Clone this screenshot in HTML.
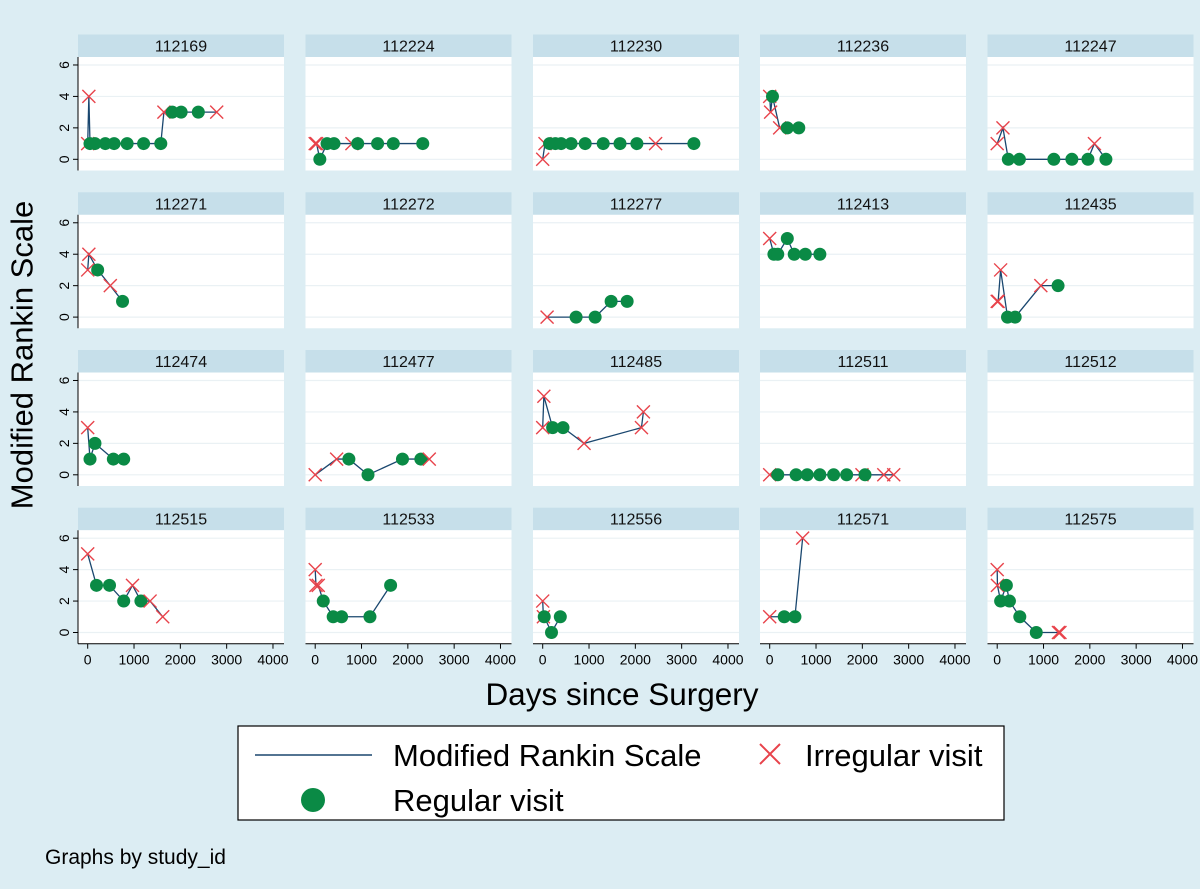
<!DOCTYPE html>
<html><head><meta charset="utf-8"><style>
body{margin:0;background:#dcedf3;}
svg{display:block;font-family:"Liberation Sans",sans-serif;}
</style></head><body>
<svg id="c" width="1200" height="889" viewBox="0 0 1200 889" xmlns="http://www.w3.org/2000/svg">
<rect width="1200" height="889" fill="#dcedf3"/>
<text x="22" y="355" font-size="31" text-anchor="middle" transform="rotate(-90 22 355)" dominant-baseline="central" fill="#000">Modified Rankin Scale</text>
<text x="622" y="705" font-size="31.5" text-anchor="middle" fill="#000">Days since Surgery</text>
<g>
<rect x="238" y="726" width="766" height="94" fill="#fff" stroke="#000" stroke-width="1.2"/>
<line x1="255" y1="755" x2="372" y2="755" stroke="#1a476f" stroke-width="1.6"/>
<text x="393" y="766" font-size="31">Modified Rankin Scale</text>
<path d="M760 744 L780 764 M780 744 L760 764" stroke="#e8434b" stroke-width="2"/>
<text x="805" y="766" font-size="31">Irregular visit</text>
<circle cx="313" cy="800" r="12" fill="#0a8a45"/>
<text x="393" y="811" font-size="31">Regular visit</text>
</g>
<text x="45" y="864" font-size="21">Graphs by study_id</text>
<g id="panels"></g>
</svg>
<script>
const ids=["112169","112224","112230","112236","112247","112271","112272","112277","112413","112435","112474","112477","112485","112511","112512","112515","112533","112556","112571","112575"];
const days=[
[0,25,50,157,380,570,851,1207,1578,1645,1826,2017,2388,2785],
[0,30,100,256,405,793,917,1347,1686,2322],
[0,50,149,273,397,612,917,1306,1669,2033,2438,3264],
[0,20,60,215,380,628],
[0,124,240,479,1223,1612,1959,2099,2347],
[0,25,215,488,752],
[],
[95,721,1132,1477,1823],
[0,91,174,380,529,769,1083],
[0,20,74,223,388,942,1314],
[0,50,157,554,777],
[0,463,727,1140,1884,2281,2463],
[0,25,215,438,893,2132,2174],
[0,174,570,810,1083,1380,1661,1992,2058,2463,2678],
[],
[0,190,471,777,967,1149,1347,1620],
[0,17,66,174,388,570,1182,1628],
[0,15,33,190,380],
[0,314,545,711],
[0,5,74,198,264,488,843,1322,1355]];
const mrs=[
[1,4,1,1,1,1,1,1,1,3,3,3,3,3],
[1,1,0,1,1,1,1,1,1,1],
[0,1,1,1,1,1,1,1,1,1,1,1],
[4,3,4,2,2,2],
[1,2,0,0,0,0,0,1,0],
[3,4,3,2,1],
[],
[0,0,0,1,1],
[5,4,4,5,4,4,4],
[1,1,3,0,0,2,2],
[3,1,2,1,1],
[0,1,1,0,1,1,1],
[3,5,3,3,2,3,4],
[0,0,0,0,0,0,0,0,0,0,0],
[],
[5,3,3,2,3,2,2,1],
[4,3,3,2,1,1,1,3],
[2,1,1,0,1],
[1,1,1,6],
[4,3,2,3,2,1,0,0,0]];
const regular=[
[0,0,1,1,1,1,1,1,1,0,1,1,1,0],
[0,0,1,1,1,0,1,1,1,1],
[0,0,1,1,1,1,1,1,1,1,0,1],
[0,0,1,0,1,1],
[0,0,1,1,1,1,1,0,1],
[0,0,1,0,1],
[],
[0,1,1,1,1],
[0,1,1,1,1,1,1],
[0,0,0,1,1,0,1],
[0,1,1,1,1],
[0,0,1,1,1,1,0],
[0,0,1,1,0,0,0],
[0,1,1,1,1,1,1,0,1,0,0],
[],
[0,1,1,1,0,1,0,0],
[0,0,0,1,1,1,1,1],
[0,0,1,1,1],
[0,1,1,0],
[0,0,1,1,1,1,1,0,0]];
const yTicks=[0,2,4,6];
const xTicks=[0,1000,2000,3000,4000];
const NS="http://www.w3.org/2000/svg";
const g=document.getElementById('panels');
function mk(t,a,p){const e=document.createElementNS(NS,t);for(const k in a)e.setAttribute(k,a[k]);(p||g).appendChild(e);return e;}
const colX=[78,305.5,533,760,987.5],rowY=[34.5,192.3,350,507.7],W=206;
ids.forEach((id,i)=>{
 const cx=colX[i%5],ry=rowY[Math.floor(i/5)],r=Math.floor(i/5),c=i%5;
 const xs=d=>cx+9.7+d*0.04632;
 const ys=v=>ry+124.8-v*15.72;
 const pg=mk('g',{});
 
 
 const hd=mk('rect',{x:cx,y:ry,width:W,height:22.5,fill:'#c6dfea'},pg);
 
 
 const ht=mk('text',{x:cx+W/2,y:ry+17,'font-size':16,'text-anchor':'middle',fill:'#111'},pg);ht.textContent=id;
 
 
 const pa=mk('rect',{x:cx,y:ry+22.5,width:W,height:113.5,fill:'#fff'},pg);
 
 
 yTicks.forEach(v=>{const l=mk('line',{x1:cx,x2:cx+W,y1:ys(v),y2:ys(v),stroke:'#eaf1f4','stroke-width':1.2},pg);
  
  });
 if(c===0){
  mk('line',{x1:cx,x2:cx,y1:ry+22.5,y2:ry+136,stroke:'#000','stroke-width':1},pg);
  yTicks.forEach(v=>{mk('line',{x1:cx-5,x2:cx,y1:ys(v),y2:ys(v),stroke:'#000'},pg);
   const t=mk('text',{x:cx-14,y:ys(v),'font-size':14,'text-anchor':'middle',transform:`rotate(-90 ${cx-14} ${ys(v)})`,'dominant-baseline':'central'},pg);t.textContent=v;
   
   });
 }
 if(r===3){
  const yb=ry+136;
  mk('line',{x1:cx,x2:cx+W,y1:yb,y2:yb,stroke:'#000'},pg);
  xTicks.forEach(v=>{mk('line',{x1:xs(v),x2:xs(v),y1:yb,y2:yb+5,stroke:'#000'},pg);
   const t=mk('text',{x:xs(v),y:yb+21,'font-size':14,'text-anchor':'middle'},pg);t.textContent=v;
   
   });
 }
 const D=days[i],V=mrs[i],R=regular[i];
 if(D.length){
  const pl=mk('polyline',{points:D.map((d,k)=>xs(d)+','+ys(V[k])).join(' '),fill:'none',stroke:'#1a476f','stroke-width':1.3},pg);
  
  
  D.forEach((d,k)=>{const x=xs(d),y=ys(V[k]);
   if(R[k]){const m=mk('circle',{cx:x,cy:y,r:6.5,fill:'#0a8a45'},pg);
    
    }
   else{const m=mk('path',{d:`M${x-6.5} ${y-6.5}L${x+6.5} ${y+6.5}M${x+6.5} ${y-6.5}L${x-6.5} ${y+6.5}`,stroke:'#e8434b','stroke-width':1.4},pg);
    
    }
  });
 }
});
</script>
</body></html>
